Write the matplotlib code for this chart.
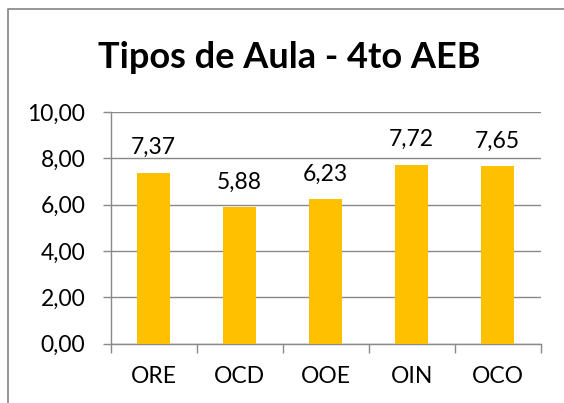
import matplotlib
matplotlib.use("Agg")
import matplotlib.pyplot as plt
from matplotlib.lines import Line2D
from matplotlib.ticker import FuncFormatter, FixedLocator

CATEGORIES = ["ORE", "OCD", "OOE", "OIN", "OCO"]
VALUES = [7.37, 5.88, 6.23, 7.72, 7.65]
Y_TICKS = [0, 2, 4, 6, 8, 10]
TITLE = "Tipos de Aula - 4to AEB"

BAR_COLOR = "#FFC000"
GRID_COLOR = "#898989"


def comma_fmt(v, pos=None):
    return f"{v:.2f}".replace(".", ",")


plt.rcParams["font.family"] = ["Lato", "DejaVu Sans"]

fig = plt.figure(figsize=(5.64, 4.03), dpi=100)
ax = fig.add_axes([0.1963, 0.1476, 0.7624, 0.5745])

x = list(range(len(CATEGORIES)))
bars = ax.bar(x, VALUES, width=0.39, color=BAR_COLOR, zorder=3)

for xi, v in zip(x, VALUES):
    ax.annotate(comma_fmt(v), (xi, v), xytext=(0, 13.5), textcoords="offset points",
                ha="center", va="baseline", fontsize=16.5, color="black")

ax.set_xlim(-0.5, len(CATEGORIES) - 0.5)
ax.set_ylim(0, 10)
ax.set_yticks(Y_TICKS)
ax.yaxis.set_major_formatter(FuncFormatter(comma_fmt))
ax.yaxis.grid(True, color=GRID_COLOR, linewidth=1.0, zorder=0)

# category labels at centers, tick marks at boundaries
ax.set_xticks(x)
ax.set_xticklabels(CATEGORIES)
ax.xaxis.set_minor_locator(FixedLocator([i - 0.5 for i in range(len(CATEGORIES) + 1)]))
ax.tick_params(axis="x", which="major", length=0, pad=16, labelsize=16.5)
ax.tick_params(axis="x", which="minor", length=6.5, width=1.0, color=GRID_COLOR, direction="out")
ax.tick_params(axis="y", length=5.8, width=1.0, color=GRID_COLOR, pad=12.5, labelsize=16.5)

for side in ["top", "right"]:
    ax.spines[side].set_visible(False)
for side in ["left", "bottom"]:
    ax.spines[side].set_color(GRID_COLOR)
    ax.spines[side].set_linewidth(1.0)

fig.text(0.512, 1 - 68.3 / 403, TITLE, ha="center", va="baseline",
         fontsize=26, fontweight="bold")

# chart frame (left and top edges visible)
fx = 8.3 / 564
fy = 1 - 9.3 / 403
fig.add_artist(Line2D([fx, fx, 1.0], [0.0, fy, fy], transform=fig.transFigure,
                      color="#8c8c8c", linewidth=1.3))

fig.savefig("out.png", dpi=100)
